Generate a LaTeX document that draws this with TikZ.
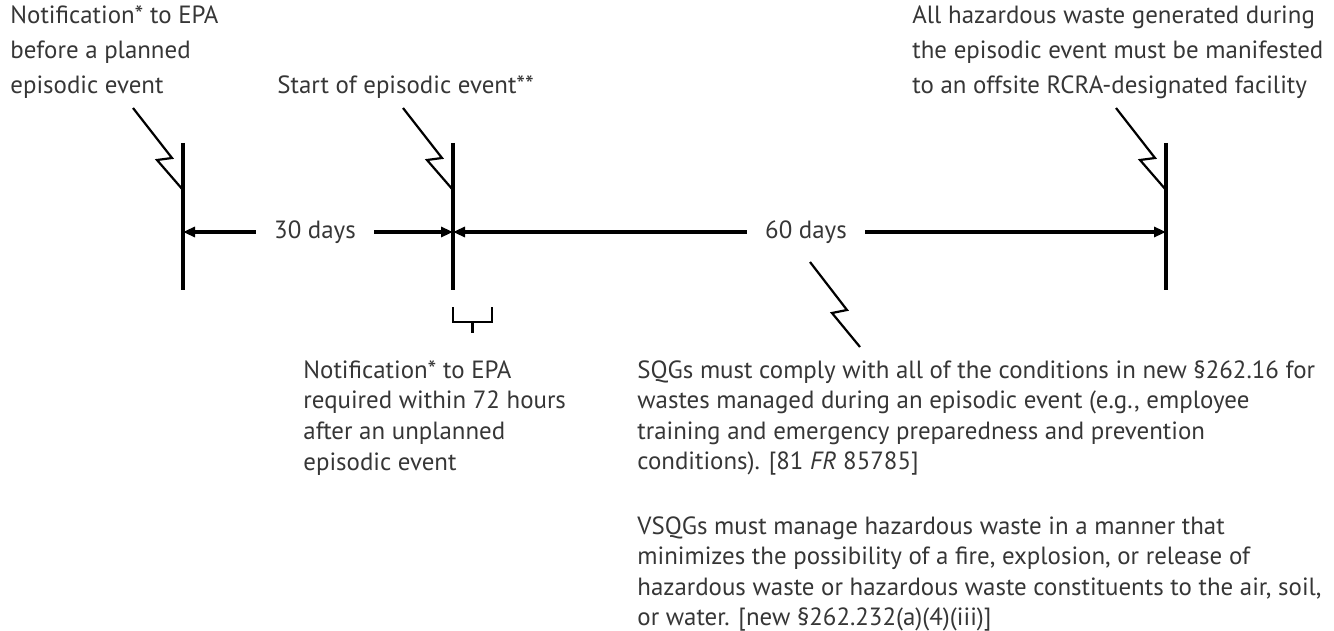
\documentclass[tikz,border=0pt]{standalone}
\usepackage{fontspec}
\setmainfont{PT Sans}
\usepackage{xcolor}
\usetikzlibrary{
    arrows.meta,
    positioning,
    calc
}
\definecolor{txtgray}{HTML}{363636}
\tikzset{%
    >={Triangle[width=5pt,length=6pt]},
    % Specifications for style of nodes:
    plain/.style = {inner sep=0pt, text=txtgray,
        font=\fontsize{12.45}{15.3}\selectfont},
    note/.style = {plain, align=left, anchor=north west},
    topnote/.style = {note, font=\fontsize{12.45}{17.5}\selectfont},
    span/.style = {plain, inner xsep=9pt},
    % Specifications for style of lines:
    tick/.style = {line width=2pt},
    spanline/.style = {->, line width=1.6pt},
    bolt/.style = {line width=1.1pt, line join=miter},
    brace/.style = {line width=1.1pt}
}

\begin{document}
\begin{tikzpicture}[x=0.5pt, y=-0.5pt]
\useasboundingbox (0,0) rectangle (1334,631);
% Specification of timeline points
\coordinate (t1) at (183,232);
\coordinate (t2) at (453,232);
\coordinate (t3) at (1166,232);
\coordinate (z)  at (810,262);
% Specification of nodes (position, etc.)
\node (plan)     [topnote] at (10,5) {Notification* to EPA\\before a planned\\episodic event};
\node (start)    [plain, anchor=west] at (277,87) {Start of episodic event**};
\node (manifest) [topnote] at (912,5) {All hazardous waste generated during\\the episodic event must be manifested\\to an offsite RCRA-designated facility};
\node (d30)      [span] at (315,232) {30 days};
\node (d60)      [span] at (806,232) {60 days};
\node (unplan)   [note] at (303,360) {Notification* to EPA\\required within 72 hours\\after an unplanned\\episodic event};
\node (sqg)      [note] at (637,360) {SQGs must comply with all of the conditions in new §262.16 for\\wastes managed during an episodic event (e.g., employee\\training and emergency preparedness and prevention\\conditions). [81 \textit{FR} 85785]};
\node (vsqg)     [note, below=20pt of sqg.south west, anchor=north west] {VSQGs must manage hazardous waste in a manner that\\minimizes the possibility of a fire, explosion, or release of\\hazardous waste or hazardous waste constituents to the air, soil,\\or water. [new §262.232(a)(4)(iii)]};
% Specification of paths
\foreach \t in {t1,t2,t3}
    \draw[tick] ($(\t)+(0,-89)$) -- ($(\t)+(0,58)$);
\foreach \t in {t1,t2,t3}
    \draw[bolt] ($(\t)+(0,-42)$) -- ++(-26,-30) -- ++(15,-2) -- ++(-39,-50);
\draw[spanline] (d30.west) -- (t1);
\draw[spanline] (d30.east) -- (t2);
\draw[spanline] (d60.west) -- (t2);
\draw[spanline] (d60.east) -- (t3);
\draw[bolt] (z) -- ++(37,48) -- ++(-15,3) -- ++(28,34);
\draw[brace] ($(t2)+(0,75)$) -- ++(0,15) -- ++(39,0) -- ++(0,-15);
\draw[brace] ($(t2)+(19.5,90)$) -- ++(0,11);
\end{tikzpicture}
\end{document}
